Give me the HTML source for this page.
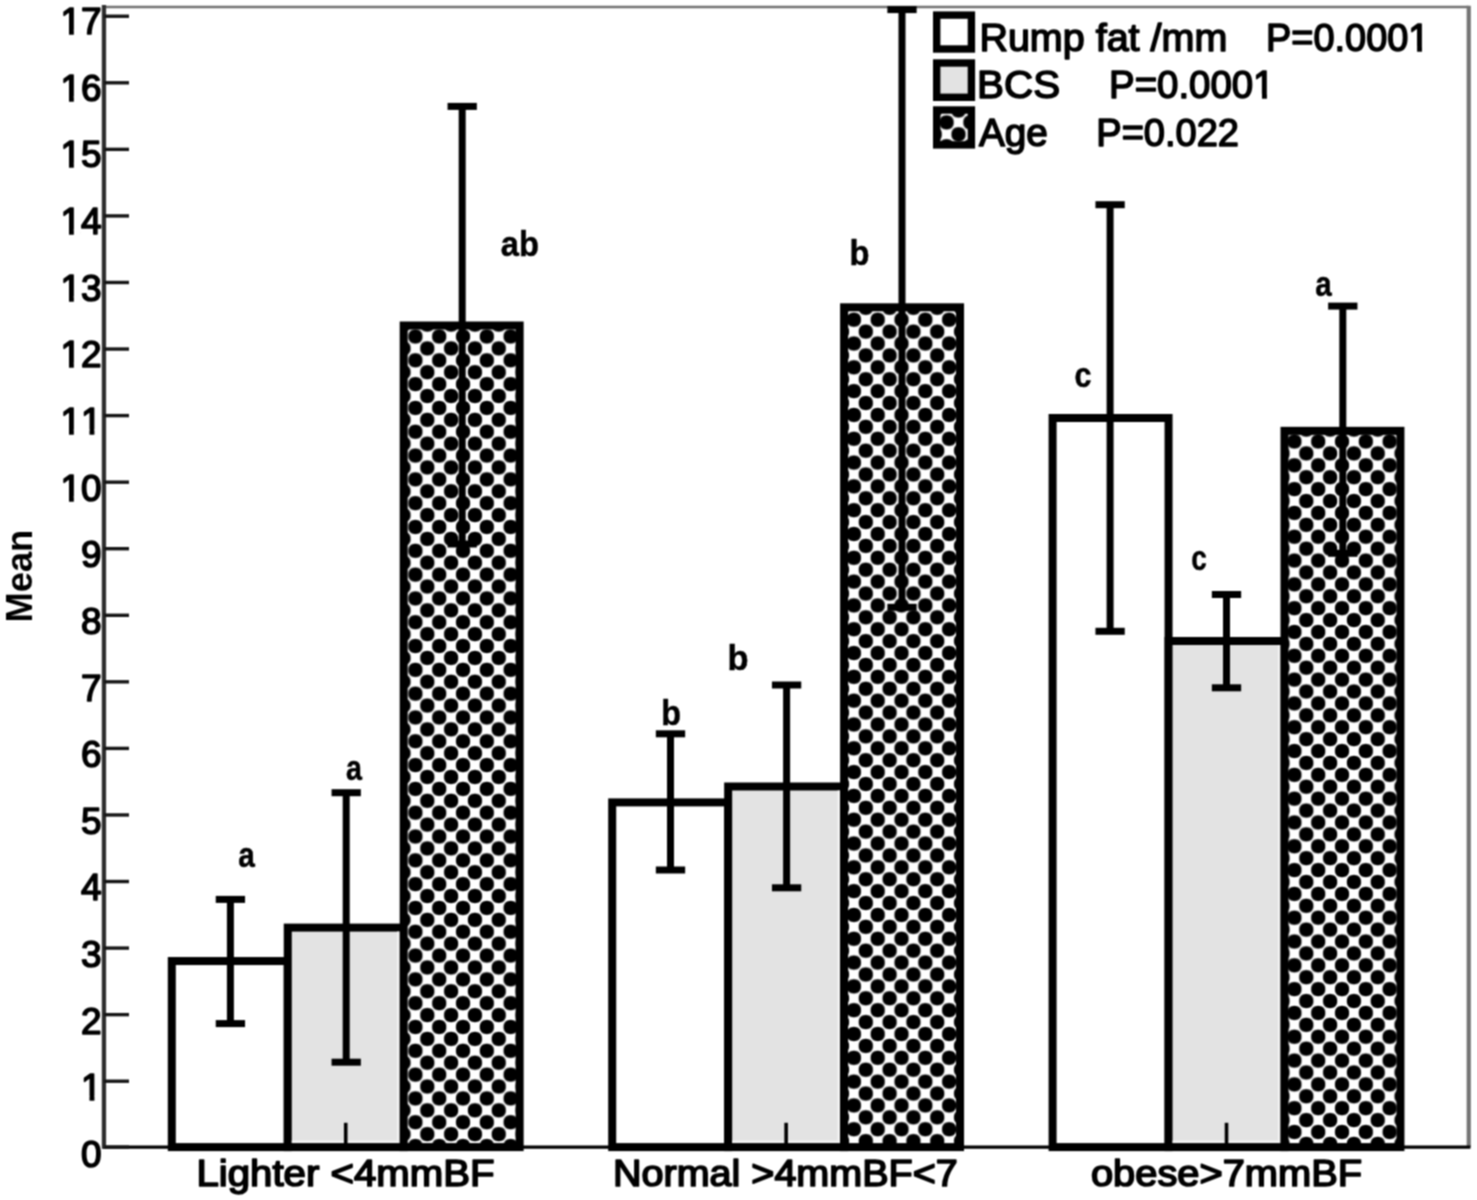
<!DOCTYPE html>
<html><head><meta charset="utf-8"><style>
html,body{margin:0;padding:0;background:#fff;}
body{width:1477px;height:1200px;overflow:hidden;}
svg{display:block;}
text{font-kerning:none;}
</style></head><body>
<svg width="1477" height="1200" viewBox="0 0 1477 1200">
<defs><filter id="soft" x="0" y="0" width="1477" height="1200" filterUnits="userSpaceOnUse" color-interpolation-filters="sRGB"><feConvolveMatrix order="3" kernelMatrix="1 2 1 2 4 2 1 2 1" divisor="16" edgeMode="duplicate"/></filter><pattern id="dots0" patternUnits="userSpaceOnUse" x="403.50" y="324.60" width="23.81" height="23.81"><rect width="23.81" height="23.81" fill="#fff"/><path d="M7.10,0.00 L7.02,1.41 L6.80,2.56 L6.42,3.57 L5.91,4.47 L5.25,5.25 L4.47,5.91 L3.57,6.42 L2.56,6.80 L1.41,7.02 L0.00,7.10 L-1.41,7.02 L-2.56,6.80 L-3.57,6.42 L-4.47,5.91 L-5.25,5.25 L-5.91,4.47 L-6.42,3.57 L-6.80,2.56 L-7.02,1.41 L-7.10,0.00 L-7.02,-1.41 L-6.80,-2.56 L-6.42,-3.57 L-5.91,-4.47 L-5.25,-5.25 L-4.47,-5.91 L-3.57,-6.42 L-2.56,-6.80 L-1.41,-7.02 L-0.00,-7.10 L1.41,-7.02 L2.56,-6.80 L3.57,-6.42 L4.47,-5.91 L5.25,-5.25 L5.91,-4.47 L6.42,-3.57 L6.80,-2.56 L7.02,-1.41Z"/><path d="M30.91,0.00 L30.83,1.41 L30.61,2.56 L30.23,3.57 L29.72,4.47 L29.06,5.25 L28.28,5.91 L27.38,6.42 L26.37,6.80 L25.22,7.02 L23.81,7.10 L22.40,7.02 L21.25,6.80 L20.24,6.42 L19.34,5.91 L18.56,5.25 L17.90,4.47 L17.39,3.57 L17.01,2.56 L16.79,1.41 L16.71,0.00 L16.79,-1.41 L17.01,-2.56 L17.39,-3.57 L17.90,-4.47 L18.56,-5.25 L19.34,-5.91 L20.24,-6.42 L21.25,-6.80 L22.40,-7.02 L23.81,-7.10 L25.22,-7.02 L26.37,-6.80 L27.38,-6.42 L28.28,-5.91 L29.06,-5.25 L29.72,-4.47 L30.23,-3.57 L30.61,-2.56 L30.83,-1.41Z"/><path d="M7.10,23.81 L7.02,25.22 L6.80,26.37 L6.42,27.38 L5.91,28.28 L5.25,29.06 L4.47,29.72 L3.57,30.23 L2.56,30.61 L1.41,30.83 L0.00,30.91 L-1.41,30.83 L-2.56,30.61 L-3.57,30.23 L-4.47,29.72 L-5.25,29.06 L-5.91,28.28 L-6.42,27.38 L-6.80,26.37 L-7.02,25.22 L-7.10,23.81 L-7.02,22.40 L-6.80,21.25 L-6.42,20.24 L-5.91,19.34 L-5.25,18.56 L-4.47,17.90 L-3.57,17.39 L-2.56,17.01 L-1.41,16.79 L-0.00,16.71 L1.41,16.79 L2.56,17.01 L3.57,17.39 L4.47,17.90 L5.25,18.56 L5.91,19.34 L6.42,20.24 L6.80,21.25 L7.02,22.40Z"/><path d="M30.91,23.81 L30.83,25.22 L30.61,26.37 L30.23,27.38 L29.72,28.28 L29.06,29.06 L28.28,29.72 L27.38,30.23 L26.37,30.61 L25.22,30.83 L23.81,30.91 L22.40,30.83 L21.25,30.61 L20.24,30.23 L19.34,29.72 L18.56,29.06 L17.90,28.28 L17.39,27.38 L17.01,26.37 L16.79,25.22 L16.71,23.81 L16.79,22.40 L17.01,21.25 L17.39,20.24 L17.90,19.34 L18.56,18.56 L19.34,17.90 L20.24,17.39 L21.25,17.01 L22.40,16.79 L23.81,16.71 L25.22,16.79 L26.37,17.01 L27.38,17.39 L28.28,17.90 L29.06,18.56 L29.72,19.34 L30.23,20.24 L30.61,21.25 L30.83,22.40Z"/><path d="M19.00,11.90 L18.93,13.32 L18.70,14.46 L18.33,15.48 L17.81,16.38 L17.16,17.16 L16.38,17.81 L15.48,18.33 L14.46,18.70 L13.32,18.93 L11.91,19.00 L10.49,18.93 L9.35,18.70 L8.33,18.33 L7.43,17.81 L6.65,17.16 L6.00,16.38 L5.48,15.48 L5.11,14.46 L4.88,13.32 L4.80,11.91 L4.88,10.49 L5.11,9.35 L5.48,8.33 L6.00,7.43 L6.65,6.65 L7.43,6.00 L8.33,5.48 L9.35,5.11 L10.49,4.88 L11.90,4.80 L13.32,4.88 L14.46,5.11 L15.48,5.48 L16.38,6.00 L17.16,6.65 L17.81,7.43 L18.33,8.33 L18.70,9.35 L18.93,10.49Z"/></pattern><pattern id="dots1" patternUnits="userSpaceOnUse" x="842.00" y="307.80" width="23.81" height="23.81"><rect width="23.81" height="23.81" fill="#fff"/><path d="M7.10,0.00 L7.02,1.41 L6.80,2.56 L6.42,3.57 L5.91,4.47 L5.25,5.25 L4.47,5.91 L3.57,6.42 L2.56,6.80 L1.41,7.02 L0.00,7.10 L-1.41,7.02 L-2.56,6.80 L-3.57,6.42 L-4.47,5.91 L-5.25,5.25 L-5.91,4.47 L-6.42,3.57 L-6.80,2.56 L-7.02,1.41 L-7.10,0.00 L-7.02,-1.41 L-6.80,-2.56 L-6.42,-3.57 L-5.91,-4.47 L-5.25,-5.25 L-4.47,-5.91 L-3.57,-6.42 L-2.56,-6.80 L-1.41,-7.02 L-0.00,-7.10 L1.41,-7.02 L2.56,-6.80 L3.57,-6.42 L4.47,-5.91 L5.25,-5.25 L5.91,-4.47 L6.42,-3.57 L6.80,-2.56 L7.02,-1.41Z"/><path d="M30.91,0.00 L30.83,1.41 L30.61,2.56 L30.23,3.57 L29.72,4.47 L29.06,5.25 L28.28,5.91 L27.38,6.42 L26.37,6.80 L25.22,7.02 L23.81,7.10 L22.40,7.02 L21.25,6.80 L20.24,6.42 L19.34,5.91 L18.56,5.25 L17.90,4.47 L17.39,3.57 L17.01,2.56 L16.79,1.41 L16.71,0.00 L16.79,-1.41 L17.01,-2.56 L17.39,-3.57 L17.90,-4.47 L18.56,-5.25 L19.34,-5.91 L20.24,-6.42 L21.25,-6.80 L22.40,-7.02 L23.81,-7.10 L25.22,-7.02 L26.37,-6.80 L27.38,-6.42 L28.28,-5.91 L29.06,-5.25 L29.72,-4.47 L30.23,-3.57 L30.61,-2.56 L30.83,-1.41Z"/><path d="M7.10,23.81 L7.02,25.22 L6.80,26.37 L6.42,27.38 L5.91,28.28 L5.25,29.06 L4.47,29.72 L3.57,30.23 L2.56,30.61 L1.41,30.83 L0.00,30.91 L-1.41,30.83 L-2.56,30.61 L-3.57,30.23 L-4.47,29.72 L-5.25,29.06 L-5.91,28.28 L-6.42,27.38 L-6.80,26.37 L-7.02,25.22 L-7.10,23.81 L-7.02,22.40 L-6.80,21.25 L-6.42,20.24 L-5.91,19.34 L-5.25,18.56 L-4.47,17.90 L-3.57,17.39 L-2.56,17.01 L-1.41,16.79 L-0.00,16.71 L1.41,16.79 L2.56,17.01 L3.57,17.39 L4.47,17.90 L5.25,18.56 L5.91,19.34 L6.42,20.24 L6.80,21.25 L7.02,22.40Z"/><path d="M30.91,23.81 L30.83,25.22 L30.61,26.37 L30.23,27.38 L29.72,28.28 L29.06,29.06 L28.28,29.72 L27.38,30.23 L26.37,30.61 L25.22,30.83 L23.81,30.91 L22.40,30.83 L21.25,30.61 L20.24,30.23 L19.34,29.72 L18.56,29.06 L17.90,28.28 L17.39,27.38 L17.01,26.37 L16.79,25.22 L16.71,23.81 L16.79,22.40 L17.01,21.25 L17.39,20.24 L17.90,19.34 L18.56,18.56 L19.34,17.90 L20.24,17.39 L21.25,17.01 L22.40,16.79 L23.81,16.71 L25.22,16.79 L26.37,17.01 L27.38,17.39 L28.28,17.90 L29.06,18.56 L29.72,19.34 L30.23,20.24 L30.61,21.25 L30.83,22.40Z"/><path d="M19.00,11.90 L18.93,13.32 L18.70,14.46 L18.33,15.48 L17.81,16.38 L17.16,17.16 L16.38,17.81 L15.48,18.33 L14.46,18.70 L13.32,18.93 L11.91,19.00 L10.49,18.93 L9.35,18.70 L8.33,18.33 L7.43,17.81 L6.65,17.16 L6.00,16.38 L5.48,15.48 L5.11,14.46 L4.88,13.32 L4.80,11.91 L4.88,10.49 L5.11,9.35 L5.48,8.33 L6.00,7.43 L6.65,6.65 L7.43,6.00 L8.33,5.48 L9.35,5.11 L10.49,4.88 L11.90,4.80 L13.32,4.88 L14.46,5.11 L15.48,5.48 L16.38,6.00 L17.16,6.65 L17.81,7.43 L18.33,8.33 L18.70,9.35 L18.93,10.49Z"/></pattern><pattern id="dots2" patternUnits="userSpaceOnUse" x="1282.50" y="429.60" width="23.81" height="23.81"><rect width="23.81" height="23.81" fill="#fff"/><path d="M7.10,0.00 L7.02,1.41 L6.80,2.56 L6.42,3.57 L5.91,4.47 L5.25,5.25 L4.47,5.91 L3.57,6.42 L2.56,6.80 L1.41,7.02 L0.00,7.10 L-1.41,7.02 L-2.56,6.80 L-3.57,6.42 L-4.47,5.91 L-5.25,5.25 L-5.91,4.47 L-6.42,3.57 L-6.80,2.56 L-7.02,1.41 L-7.10,0.00 L-7.02,-1.41 L-6.80,-2.56 L-6.42,-3.57 L-5.91,-4.47 L-5.25,-5.25 L-4.47,-5.91 L-3.57,-6.42 L-2.56,-6.80 L-1.41,-7.02 L-0.00,-7.10 L1.41,-7.02 L2.56,-6.80 L3.57,-6.42 L4.47,-5.91 L5.25,-5.25 L5.91,-4.47 L6.42,-3.57 L6.80,-2.56 L7.02,-1.41Z"/><path d="M30.91,0.00 L30.83,1.41 L30.61,2.56 L30.23,3.57 L29.72,4.47 L29.06,5.25 L28.28,5.91 L27.38,6.42 L26.37,6.80 L25.22,7.02 L23.81,7.10 L22.40,7.02 L21.25,6.80 L20.24,6.42 L19.34,5.91 L18.56,5.25 L17.90,4.47 L17.39,3.57 L17.01,2.56 L16.79,1.41 L16.71,0.00 L16.79,-1.41 L17.01,-2.56 L17.39,-3.57 L17.90,-4.47 L18.56,-5.25 L19.34,-5.91 L20.24,-6.42 L21.25,-6.80 L22.40,-7.02 L23.81,-7.10 L25.22,-7.02 L26.37,-6.80 L27.38,-6.42 L28.28,-5.91 L29.06,-5.25 L29.72,-4.47 L30.23,-3.57 L30.61,-2.56 L30.83,-1.41Z"/><path d="M7.10,23.81 L7.02,25.22 L6.80,26.37 L6.42,27.38 L5.91,28.28 L5.25,29.06 L4.47,29.72 L3.57,30.23 L2.56,30.61 L1.41,30.83 L0.00,30.91 L-1.41,30.83 L-2.56,30.61 L-3.57,30.23 L-4.47,29.72 L-5.25,29.06 L-5.91,28.28 L-6.42,27.38 L-6.80,26.37 L-7.02,25.22 L-7.10,23.81 L-7.02,22.40 L-6.80,21.25 L-6.42,20.24 L-5.91,19.34 L-5.25,18.56 L-4.47,17.90 L-3.57,17.39 L-2.56,17.01 L-1.41,16.79 L-0.00,16.71 L1.41,16.79 L2.56,17.01 L3.57,17.39 L4.47,17.90 L5.25,18.56 L5.91,19.34 L6.42,20.24 L6.80,21.25 L7.02,22.40Z"/><path d="M30.91,23.81 L30.83,25.22 L30.61,26.37 L30.23,27.38 L29.72,28.28 L29.06,29.06 L28.28,29.72 L27.38,30.23 L26.37,30.61 L25.22,30.83 L23.81,30.91 L22.40,30.83 L21.25,30.61 L20.24,30.23 L19.34,29.72 L18.56,29.06 L17.90,28.28 L17.39,27.38 L17.01,26.37 L16.79,25.22 L16.71,23.81 L16.79,22.40 L17.01,21.25 L17.39,20.24 L17.90,19.34 L18.56,18.56 L19.34,17.90 L20.24,17.39 L21.25,17.01 L22.40,16.79 L23.81,16.71 L25.22,16.79 L26.37,17.01 L27.38,17.39 L28.28,17.90 L29.06,18.56 L29.72,19.34 L30.23,20.24 L30.61,21.25 L30.83,22.40Z"/><path d="M19.00,11.90 L18.93,13.32 L18.70,14.46 L18.33,15.48 L17.81,16.38 L17.16,17.16 L16.38,17.81 L15.48,18.33 L14.46,18.70 L13.32,18.93 L11.91,19.00 L10.49,18.93 L9.35,18.70 L8.33,18.33 L7.43,17.81 L6.65,17.16 L6.00,16.38 L5.48,15.48 L5.11,14.46 L4.88,13.32 L4.80,11.91 L4.88,10.49 L5.11,9.35 L5.48,8.33 L6.00,7.43 L6.65,6.65 L7.43,6.00 L8.33,5.48 L9.35,5.11 L10.49,4.88 L11.90,4.80 L13.32,4.88 L14.46,5.11 L15.48,5.48 L16.38,6.00 L17.16,6.65 L17.81,7.43 L18.33,8.33 L18.70,9.35 L18.93,10.49Z"/></pattern><pattern id="legdots" patternUnits="userSpaceOnUse" x="946.60" y="122.40" width="23.81" height="23.81"><rect width="23.81" height="23.81" fill="#fff"/><path d="M7.10,0.00 L7.02,1.41 L6.80,2.56 L6.42,3.57 L5.91,4.47 L5.25,5.25 L4.47,5.91 L3.57,6.42 L2.56,6.80 L1.41,7.02 L0.00,7.10 L-1.41,7.02 L-2.56,6.80 L-3.57,6.42 L-4.47,5.91 L-5.25,5.25 L-5.91,4.47 L-6.42,3.57 L-6.80,2.56 L-7.02,1.41 L-7.10,0.00 L-7.02,-1.41 L-6.80,-2.56 L-6.42,-3.57 L-5.91,-4.47 L-5.25,-5.25 L-4.47,-5.91 L-3.57,-6.42 L-2.56,-6.80 L-1.41,-7.02 L-0.00,-7.10 L1.41,-7.02 L2.56,-6.80 L3.57,-6.42 L4.47,-5.91 L5.25,-5.25 L5.91,-4.47 L6.42,-3.57 L6.80,-2.56 L7.02,-1.41Z"/><path d="M30.91,0.00 L30.83,1.41 L30.61,2.56 L30.23,3.57 L29.72,4.47 L29.06,5.25 L28.28,5.91 L27.38,6.42 L26.37,6.80 L25.22,7.02 L23.81,7.10 L22.40,7.02 L21.25,6.80 L20.24,6.42 L19.34,5.91 L18.56,5.25 L17.90,4.47 L17.39,3.57 L17.01,2.56 L16.79,1.41 L16.71,0.00 L16.79,-1.41 L17.01,-2.56 L17.39,-3.57 L17.90,-4.47 L18.56,-5.25 L19.34,-5.91 L20.24,-6.42 L21.25,-6.80 L22.40,-7.02 L23.81,-7.10 L25.22,-7.02 L26.37,-6.80 L27.38,-6.42 L28.28,-5.91 L29.06,-5.25 L29.72,-4.47 L30.23,-3.57 L30.61,-2.56 L30.83,-1.41Z"/><path d="M7.10,23.81 L7.02,25.22 L6.80,26.37 L6.42,27.38 L5.91,28.28 L5.25,29.06 L4.47,29.72 L3.57,30.23 L2.56,30.61 L1.41,30.83 L0.00,30.91 L-1.41,30.83 L-2.56,30.61 L-3.57,30.23 L-4.47,29.72 L-5.25,29.06 L-5.91,28.28 L-6.42,27.38 L-6.80,26.37 L-7.02,25.22 L-7.10,23.81 L-7.02,22.40 L-6.80,21.25 L-6.42,20.24 L-5.91,19.34 L-5.25,18.56 L-4.47,17.90 L-3.57,17.39 L-2.56,17.01 L-1.41,16.79 L-0.00,16.71 L1.41,16.79 L2.56,17.01 L3.57,17.39 L4.47,17.90 L5.25,18.56 L5.91,19.34 L6.42,20.24 L6.80,21.25 L7.02,22.40Z"/><path d="M30.91,23.81 L30.83,25.22 L30.61,26.37 L30.23,27.38 L29.72,28.28 L29.06,29.06 L28.28,29.72 L27.38,30.23 L26.37,30.61 L25.22,30.83 L23.81,30.91 L22.40,30.83 L21.25,30.61 L20.24,30.23 L19.34,29.72 L18.56,29.06 L17.90,28.28 L17.39,27.38 L17.01,26.37 L16.79,25.22 L16.71,23.81 L16.79,22.40 L17.01,21.25 L17.39,20.24 L17.90,19.34 L18.56,18.56 L19.34,17.90 L20.24,17.39 L21.25,17.01 L22.40,16.79 L23.81,16.71 L25.22,16.79 L26.37,17.01 L27.38,17.39 L28.28,17.90 L29.06,18.56 L29.72,19.34 L30.23,20.24 L30.61,21.25 L30.83,22.40Z"/><path d="M19.00,11.90 L18.93,13.32 L18.70,14.46 L18.33,15.48 L17.81,16.38 L17.16,17.16 L16.38,17.81 L15.48,18.33 L14.46,18.70 L13.32,18.93 L11.91,19.00 L10.49,18.93 L9.35,18.70 L8.33,18.33 L7.43,17.81 L6.65,17.16 L6.00,16.38 L5.48,15.48 L5.11,14.46 L4.88,13.32 L4.80,11.91 L4.88,10.49 L5.11,9.35 L5.48,8.33 L6.00,7.43 L6.65,6.65 L7.43,6.00 L8.33,5.48 L9.35,5.11 L10.49,4.88 L11.90,4.80 L13.32,4.88 L14.46,5.11 L15.48,5.48 L16.38,6.00 L17.16,6.65 L17.81,7.43 L18.33,8.33 L18.70,9.35 L18.93,10.49Z"/></pattern><clipPath id="plotclip" clipPathUnits="userSpaceOnUse"><rect x="100" y="6.1" width="1375" height="1190"/></clipPath><clipPath id="clip_t1" clipPathUnits="userSpaceOnUse"><rect x="-2000" y="-2000" width="5000" height="1995.54"/><rect x="-12.02" y="-5.46" width="4.77" height="12.46"/></clipPath><clipPath id="clip_t10" clipPathUnits="userSpaceOnUse"><rect x="-2000" y="-2000" width="5000" height="1995.54"/><rect x="-32.59" y="-5.46" width="4.77" height="12.46"/><rect x="-21.09" y="-5.46" width="21.59" height="24.46"/></clipPath><clipPath id="clip_t11" clipPathUnits="userSpaceOnUse"><rect x="-2000" y="-2000" width="5000" height="1995.54"/><rect x="-32.60" y="-5.46" width="4.77" height="12.46"/><rect x="-12.04" y="-5.46" width="4.77" height="12.46"/></clipPath><clipPath id="clip_t12" clipPathUnits="userSpaceOnUse"><rect x="-2000" y="-2000" width="5000" height="1995.54"/><rect x="-32.59" y="-5.46" width="4.77" height="12.46"/><rect x="-21.09" y="-5.46" width="21.59" height="24.46"/></clipPath><clipPath id="clip_t13" clipPathUnits="userSpaceOnUse"><rect x="-2000" y="-2000" width="5000" height="1995.54"/><rect x="-32.59" y="-5.46" width="4.77" height="12.46"/><rect x="-21.09" y="-5.46" width="21.59" height="24.46"/></clipPath><clipPath id="clip_t14" clipPathUnits="userSpaceOnUse"><rect x="-2000" y="-2000" width="5000" height="1995.54"/><rect x="-32.59" y="-5.46" width="4.77" height="12.46"/><rect x="-21.09" y="-5.46" width="21.59" height="24.46"/></clipPath><clipPath id="clip_t15" clipPathUnits="userSpaceOnUse"><rect x="-2000" y="-2000" width="5000" height="1995.54"/><rect x="-32.59" y="-5.46" width="4.77" height="12.46"/><rect x="-21.09" y="-5.46" width="21.59" height="24.46"/></clipPath><clipPath id="clip_t16" clipPathUnits="userSpaceOnUse"><rect x="-2000" y="-2000" width="5000" height="1995.54"/><rect x="-32.59" y="-5.46" width="4.77" height="12.46"/><rect x="-21.09" y="-5.46" width="21.59" height="24.46"/></clipPath><clipPath id="clip_t17" clipPathUnits="userSpaceOnUse"><rect x="-2000" y="-2000" width="5000" height="1995.54"/><rect x="-32.59" y="-5.46" width="4.77" height="12.46"/><rect x="-21.09" y="-5.46" width="21.59" height="24.46"/></clipPath><clipPath id="clip_leg1" clipPathUnits="userSpaceOnUse"><rect x="-2000" y="-2000" width="5000" height="2046.25"/><rect x="1265.58" y="45.25" width="26.29" height="24.65"/><rect x="1290.86" y="45.25" width="23.14" height="24.65"/><rect x="1312.99" y="45.25" width="22.10" height="24.65"/><rect x="1334.07" y="45.25" width="11.54" height="24.65"/><rect x="1344.59" y="45.25" width="22.10" height="24.65"/><rect x="1365.67" y="45.25" width="22.10" height="24.65"/><rect x="1386.75" y="45.25" width="22.10" height="24.65"/><rect x="1417.12" y="45.25" width="4.85" height="12.65"/></clipPath><clipPath id="clip_leg3" clipPathUnits="userSpaceOnUse"><rect x="-2000" y="-2000" width="5000" height="2093.75"/><rect x="1108.56" y="92.75" width="26.61" height="24.65"/><rect x="1134.15" y="92.75" width="23.42" height="24.65"/><rect x="1156.56" y="92.75" width="22.36" height="24.65"/><rect x="1177.90" y="92.75" width="11.67" height="24.65"/><rect x="1188.56" y="92.75" width="22.36" height="24.65"/><rect x="1209.90" y="92.75" width="22.36" height="24.65"/><rect x="1231.24" y="92.75" width="22.36" height="24.65"/><rect x="1261.99" y="92.75" width="4.89" height="12.65"/></clipPath></defs>
<g filter="url(#soft)">
<rect width="1477" height="1200" fill="#fff"/>
<rect x="171.80" y="961.05" width="115.95" height="186.05" fill="#ffffff" stroke="#000" stroke-width="8"/>
<rect x="287.75" y="927.60" width="115.95" height="219.50" fill="#e3e3e3" stroke="#000" stroke-width="8"/>
<path d="M398.40,931.60 V1141.80 H291.75" fill="none" stroke="#f3f3f3" stroke-width="2.6"/>
<rect x="403.70" y="325.50" width="115.95" height="821.60" fill="url(#dots0)" stroke="#000" stroke-width="8"/>
<rect x="612.20" y="802.40" width="115.95" height="344.70" fill="#ffffff" stroke="#000" stroke-width="8"/>
<rect x="728.15" y="786.50" width="115.95" height="360.60" fill="#e3e3e3" stroke="#000" stroke-width="8"/>
<path d="M838.80,790.50 V1141.80 H732.15" fill="none" stroke="#f3f3f3" stroke-width="2.6"/>
<rect x="844.10" y="307.30" width="115.95" height="839.80" fill="url(#dots1)" stroke="#000" stroke-width="8"/>
<rect x="1052.60" y="418.00" width="115.95" height="729.10" fill="#ffffff" stroke="#000" stroke-width="8"/>
<rect x="1168.55" y="641.00" width="115.95" height="506.10" fill="#e3e3e3" stroke="#000" stroke-width="8"/>
<path d="M1279.20,645.00 V1141.80 H1172.55" fill="none" stroke="#f3f3f3" stroke-width="2.6"/>
<rect x="1284.50" y="430.85" width="115.95" height="716.25" fill="url(#dots2)" stroke="#000" stroke-width="8"/>
<line x1="104.2" y1="7.0" x2="1468.5" y2="7.0" stroke="#707070" stroke-width="2.4"/>
<line x1="1468.75" y1="5.8" x2="1468.75" y2="1147.1" stroke="#747474" stroke-width="4.2"/>
<line x1="102" y1="1147.1" x2="1470.5" y2="1147.1" stroke="#000" stroke-width="3.2"/>
<line x1="103.95" y1="5" x2="103.95" y2="1148.1" stroke="#2e2e2e" stroke-width="4.3"/>
<line x1="104" y1="1147.10" x2="129" y2="1147.10" stroke="#151515" stroke-width="3.4"/>
<line x1="104" y1="1081.20" x2="129" y2="1081.20" stroke="#151515" stroke-width="3.4"/>
<line x1="104" y1="1014.64" x2="129" y2="1014.64" stroke="#151515" stroke-width="3.4"/>
<line x1="104" y1="948.08" x2="129" y2="948.08" stroke="#151515" stroke-width="3.4"/>
<line x1="104" y1="881.52" x2="129" y2="881.52" stroke="#151515" stroke-width="3.4"/>
<line x1="104" y1="814.96" x2="129" y2="814.96" stroke="#151515" stroke-width="3.4"/>
<line x1="104" y1="748.40" x2="129" y2="748.40" stroke="#151515" stroke-width="3.4"/>
<line x1="104" y1="681.84" x2="129" y2="681.84" stroke="#151515" stroke-width="3.4"/>
<line x1="104" y1="615.28" x2="129" y2="615.28" stroke="#151515" stroke-width="3.4"/>
<line x1="104" y1="548.72" x2="129" y2="548.72" stroke="#151515" stroke-width="3.4"/>
<line x1="104" y1="482.16" x2="129" y2="482.16" stroke="#151515" stroke-width="3.4"/>
<line x1="104" y1="415.60" x2="129" y2="415.60" stroke="#151515" stroke-width="3.4"/>
<line x1="104" y1="349.04" x2="129" y2="349.04" stroke="#151515" stroke-width="3.4"/>
<line x1="104" y1="282.48" x2="129" y2="282.48" stroke="#151515" stroke-width="3.4"/>
<line x1="104" y1="215.92" x2="129" y2="215.92" stroke="#151515" stroke-width="3.4"/>
<line x1="104" y1="149.36" x2="129" y2="149.36" stroke="#151515" stroke-width="3.4"/>
<line x1="104" y1="82.80" x2="129" y2="82.80" stroke="#151515" stroke-width="3.4"/>
<line x1="104" y1="16.24" x2="129" y2="16.24" stroke="#151515" stroke-width="3.4"/>
<line x1="345.73" y1="1122.8" x2="345.73" y2="1147.1" stroke="#000" stroke-width="3.6"/>
<line x1="786.12" y1="1122.8" x2="786.12" y2="1147.1" stroke="#000" stroke-width="3.6"/>
<line x1="1226.52" y1="1122.8" x2="1226.52" y2="1147.1" stroke="#000" stroke-width="3.6"/>
<g clip-path="url(#plotclip)">
<line x1="230.40" y1="899.40" x2="230.40" y2="1023.60" stroke="#000" stroke-width="7.0"/>
<line x1="215.75" y1="899.40" x2="245.05" y2="899.40" stroke="#000" stroke-width="7.0"/>
<line x1="215.75" y1="1023.60" x2="245.05" y2="1023.60" stroke="#000" stroke-width="7.0"/>
<line x1="346.20" y1="792.70" x2="346.20" y2="1062.20" stroke="#000" stroke-width="7.0"/>
<line x1="331.55" y1="792.70" x2="360.85" y2="792.70" stroke="#000" stroke-width="7.0"/>
<line x1="331.55" y1="1062.20" x2="360.85" y2="1062.20" stroke="#000" stroke-width="7.0"/>
<line x1="462.20" y1="106.40" x2="462.20" y2="544.00" stroke="#000" stroke-width="7.0"/>
<line x1="447.55" y1="106.40" x2="476.85" y2="106.40" stroke="#000" stroke-width="7.0"/>
<line x1="447.55" y1="544.00" x2="476.85" y2="544.00" stroke="#000" stroke-width="7.0"/>
<line x1="670.50" y1="733.80" x2="670.50" y2="870.00" stroke="#000" stroke-width="7.0"/>
<line x1="655.85" y1="733.80" x2="685.15" y2="733.80" stroke="#000" stroke-width="7.0"/>
<line x1="655.85" y1="870.00" x2="685.15" y2="870.00" stroke="#000" stroke-width="7.0"/>
<line x1="786.60" y1="685.00" x2="786.60" y2="887.80" stroke="#000" stroke-width="7.0"/>
<line x1="771.95" y1="685.00" x2="801.25" y2="685.00" stroke="#000" stroke-width="7.0"/>
<line x1="771.95" y1="887.80" x2="801.25" y2="887.80" stroke="#000" stroke-width="7.0"/>
<line x1="902.00" y1="9.60" x2="902.00" y2="607.30" stroke="#000" stroke-width="7.0"/>
<line x1="887.35" y1="9.60" x2="916.65" y2="9.60" stroke="#000" stroke-width="7.0"/>
<line x1="887.35" y1="607.30" x2="916.65" y2="607.30" stroke="#000" stroke-width="7.0"/>
<line x1="1110.10" y1="204.70" x2="1110.10" y2="631.30" stroke="#000" stroke-width="7.0"/>
<line x1="1095.45" y1="204.70" x2="1124.75" y2="204.70" stroke="#000" stroke-width="7.0"/>
<line x1="1095.45" y1="631.30" x2="1124.75" y2="631.30" stroke="#000" stroke-width="7.0"/>
<line x1="1226.50" y1="594.50" x2="1226.50" y2="687.80" stroke="#000" stroke-width="7.0"/>
<line x1="1211.85" y1="594.50" x2="1241.15" y2="594.50" stroke="#000" stroke-width="7.0"/>
<line x1="1211.85" y1="687.80" x2="1241.15" y2="687.80" stroke="#000" stroke-width="7.0"/>
<line x1="1342.80" y1="306.10" x2="1342.80" y2="553.30" stroke="#000" stroke-width="7.0"/>
<line x1="1328.15" y1="306.10" x2="1357.45" y2="306.10" stroke="#000" stroke-width="7.0"/>
<line x1="1328.15" y1="553.30" x2="1357.45" y2="553.30" stroke="#000" stroke-width="7.0"/>
</g>
<rect x="936.70" y="15.10" width="34.70" height="33.90" fill="#fff" stroke="#000" stroke-width="7.4"/>
<rect x="936.70" y="63.00" width="34.70" height="34.30" fill="#e3e3e3" stroke="#000" stroke-width="7.4"/>
<rect x="936.70" y="110.00" width="34.70" height="34.90" fill="url(#legdots)" stroke="#000" stroke-width="7.4"/>
<text transform="translate(32.2,576.1) rotate(-90)" text-anchor="middle" font-family="Liberation Sans, sans-serif" font-weight="bold" font-size="36.3">Mean</text>
<text id="t0" font-family="Liberation Sans, sans-serif" font-size="37" stroke="#000" stroke-width="1.6" stroke-linejoin="round" fill="#000" text-anchor="end" transform="translate(101.6,1167.00) scale(1.0000,1)" x="0" y="0">0</text>
<text id="t1" font-family="Liberation Sans, sans-serif" font-size="37" stroke="#000" stroke-width="1.6" stroke-linejoin="round" fill="#000" clip-path="url(#clip_t1)" text-anchor="end" transform="translate(101.6,1100.36) scale(1.0000,1)" x="0" y="0">1</text>
<text id="t2" font-family="Liberation Sans, sans-serif" font-size="37" stroke="#000" stroke-width="1.6" stroke-linejoin="round" fill="#000" text-anchor="end" transform="translate(101.6,1033.72) scale(1.0000,1)" x="0" y="0">2</text>
<text id="t3" font-family="Liberation Sans, sans-serif" font-size="37" stroke="#000" stroke-width="1.6" stroke-linejoin="round" fill="#000" text-anchor="end" transform="translate(101.6,967.08) scale(1.0000,1)" x="0" y="0">3</text>
<text id="t4" font-family="Liberation Sans, sans-serif" font-size="37" stroke="#000" stroke-width="1.6" stroke-linejoin="round" fill="#000" text-anchor="end" transform="translate(101.6,900.44) scale(1.0000,1)" x="0" y="0">4</text>
<text id="t5" font-family="Liberation Sans, sans-serif" font-size="37" stroke="#000" stroke-width="1.6" stroke-linejoin="round" fill="#000" text-anchor="end" transform="translate(101.6,833.80) scale(1.0000,1)" x="0" y="0">5</text>
<text id="t6" font-family="Liberation Sans, sans-serif" font-size="37" stroke="#000" stroke-width="1.6" stroke-linejoin="round" fill="#000" text-anchor="end" transform="translate(101.6,767.16) scale(1.0000,1)" x="0" y="0">6</text>
<text id="t7" font-family="Liberation Sans, sans-serif" font-size="37" stroke="#000" stroke-width="1.6" stroke-linejoin="round" fill="#000" text-anchor="end" transform="translate(101.6,700.52) scale(1.0000,1)" x="0" y="0">7</text>
<text id="t8" font-family="Liberation Sans, sans-serif" font-size="37" stroke="#000" stroke-width="1.6" stroke-linejoin="round" fill="#000" text-anchor="end" transform="translate(101.6,633.88) scale(1.0000,1)" x="0" y="0">8</text>
<text id="t9" font-family="Liberation Sans, sans-serif" font-size="37" stroke="#000" stroke-width="1.6" stroke-linejoin="round" fill="#000" text-anchor="end" transform="translate(101.6,567.24) scale(1.0000,1)" x="0" y="0">9</text>
<text id="t10" font-family="Liberation Sans, sans-serif" font-size="37" stroke="#000" stroke-width="1.6" stroke-linejoin="round" fill="#000" clip-path="url(#clip_t10)" text-anchor="end" transform="translate(101.6,500.60) scale(1.0000,1)" x="0" y="0">10</text>
<text id="t11" font-family="Liberation Sans, sans-serif" font-size="37" stroke="#000" stroke-width="1.6" stroke-linejoin="round" fill="#000" clip-path="url(#clip_t11)" text-anchor="end" transform="translate(101.6,433.96) scale(1.0000,1)" x="0" y="0">11</text>
<text id="t12" font-family="Liberation Sans, sans-serif" font-size="37" stroke="#000" stroke-width="1.6" stroke-linejoin="round" fill="#000" clip-path="url(#clip_t12)" text-anchor="end" transform="translate(101.6,367.32) scale(1.0000,1)" x="0" y="0">12</text>
<text id="t13" font-family="Liberation Sans, sans-serif" font-size="37" stroke="#000" stroke-width="1.6" stroke-linejoin="round" fill="#000" clip-path="url(#clip_t13)" text-anchor="end" transform="translate(101.6,300.68) scale(1.0000,1)" x="0" y="0">13</text>
<text id="t14" font-family="Liberation Sans, sans-serif" font-size="37" stroke="#000" stroke-width="1.6" stroke-linejoin="round" fill="#000" clip-path="url(#clip_t14)" text-anchor="end" transform="translate(101.6,234.04) scale(1.0000,1)" x="0" y="0">14</text>
<text id="t15" font-family="Liberation Sans, sans-serif" font-size="37" stroke="#000" stroke-width="1.6" stroke-linejoin="round" fill="#000" clip-path="url(#clip_t15)" text-anchor="end" transform="translate(101.6,167.40) scale(1.0000,1)" x="0" y="0">15</text>
<text id="t16" font-family="Liberation Sans, sans-serif" font-size="37" stroke="#000" stroke-width="1.6" stroke-linejoin="round" fill="#000" clip-path="url(#clip_t16)" text-anchor="end" transform="translate(101.6,100.76) scale(1.0000,1)" x="0" y="0">16</text>
<text id="t17" font-family="Liberation Sans, sans-serif" font-size="37" stroke="#000" stroke-width="1.6" stroke-linejoin="round" fill="#000" clip-path="url(#clip_t17)" text-anchor="end" transform="translate(101.6,34.12) scale(1.0000,1)" x="0" y="0">17</text>
<text id="cat0" font-family="Liberation Sans, sans-serif" font-size="37.5" stroke="#000" stroke-width="1.7" stroke-linejoin="round" fill="#000" x="196.43" y="1186.30" textLength="298.17" lengthAdjust="spacingAndGlyphs">Lighter &lt;4mmBF</text>
<text id="cat1" font-family="Liberation Sans, sans-serif" font-size="37.5" stroke="#000" stroke-width="1.7" stroke-linejoin="round" fill="#000" x="613.06" y="1186.30" textLength="344.66" lengthAdjust="spacingAndGlyphs">Normal &gt;4mmBF&lt;7</text>
<text id="cat2" font-family="Liberation Sans, sans-serif" font-size="37.5" stroke="#000" stroke-width="1.7" stroke-linejoin="round" fill="#000" x="1090.97" y="1186.30" textLength="271.12" lengthAdjust="spacingAndGlyphs">obese&gt;7mmBF</text>
<text id="leg0" font-family="Liberation Sans, sans-serif" font-size="39.5" stroke="#000" stroke-width="1.6" stroke-linejoin="round" fill="#000" x="979.40" y="50.70" textLength="247.92" lengthAdjust="spacingAndGlyphs">Rump fat /mm</text>
<text id="leg1" font-family="Liberation Sans, sans-serif" font-size="39.5" stroke="#000" stroke-width="1.6" stroke-linejoin="round" fill="#000" clip-path="url(#clip_leg1)" x="1266.08" y="50.90" textLength="163.35" lengthAdjust="spacingAndGlyphs">P=0.0001</text>
<text id="leg2" font-family="Liberation Sans, sans-serif" font-size="39.5" stroke="#000" stroke-width="1.6" stroke-linejoin="round" fill="#000" x="977.14" y="98.40" textLength="82.90" lengthAdjust="spacingAndGlyphs">BCS</text>
<text id="leg3" font-family="Liberation Sans, sans-serif" font-size="39.5" stroke="#000" stroke-width="1.6" stroke-linejoin="round" fill="#000" clip-path="url(#clip_leg3)" x="1109.06" y="98.40" textLength="165.38" lengthAdjust="spacingAndGlyphs">P=0.0001</text>
<text id="leg4" font-family="Liberation Sans, sans-serif" font-size="39.5" stroke="#000" stroke-width="1.6" stroke-linejoin="round" fill="#000" x="978.98" y="145.60" textLength="68.91" lengthAdjust="spacingAndGlyphs">Age</text>
<text id="leg5" font-family="Liberation Sans, sans-serif" font-size="39.5" stroke="#000" stroke-width="1.6" stroke-linejoin="round" fill="#000" x="1096.28" y="145.60" textLength="142.75" lengthAdjust="spacingAndGlyphs">P=0.022</text>
<text id="let0" font-family="Liberation Sans, sans-serif" font-size="35.5" font-weight="bold" stroke="#000" stroke-width="0.5" stroke-linejoin="round" fill="#000" x="238.16" y="867.40" textLength="16.58" lengthAdjust="spacingAndGlyphs">a</text>
<text id="let1" font-family="Liberation Sans, sans-serif" font-size="35.5" font-weight="bold" stroke="#000" stroke-width="0.5" stroke-linejoin="round" fill="#000" x="346.07" y="779.50" textLength="15.94" lengthAdjust="spacingAndGlyphs">a</text>
<text id="let2" font-family="Liberation Sans, sans-serif" font-size="35.5" font-weight="bold" stroke="#000" stroke-width="0.5" stroke-linejoin="round" fill="#000" x="500.87" y="255.50" textLength="38.12" lengthAdjust="spacingAndGlyphs">ab</text>
<text id="let3" font-family="Liberation Sans, sans-serif" font-size="35.5" font-weight="bold" stroke="#000" stroke-width="0.5" stroke-linejoin="round" fill="#000" x="661.33" y="724.50" textLength="19.74" lengthAdjust="spacingAndGlyphs">b</text>
<text id="let4" font-family="Liberation Sans, sans-serif" font-size="35.5" font-weight="bold" stroke="#000" stroke-width="0.5" stroke-linejoin="round" fill="#000" x="727.44" y="670.00" textLength="21.00" lengthAdjust="spacingAndGlyphs">b</text>
<text id="let5" font-family="Liberation Sans, sans-serif" font-size="35.5" font-weight="bold" stroke="#000" stroke-width="0.5" stroke-linejoin="round" fill="#000" x="849.48" y="265.20" textLength="19.96" lengthAdjust="spacingAndGlyphs">b</text>
<text id="let6" font-family="Liberation Sans, sans-serif" font-size="35.5" font-weight="bold" stroke="#000" stroke-width="0.5" stroke-linejoin="round" fill="#000" x="1074.39" y="386.70" textLength="16.91" lengthAdjust="spacingAndGlyphs">c</text>
<text id="let7" font-family="Liberation Sans, sans-serif" font-size="35.5" font-weight="bold" stroke="#000" stroke-width="0.5" stroke-linejoin="round" fill="#000" x="1191.30" y="569.90" textLength="15.55" lengthAdjust="spacingAndGlyphs">c</text>
<text id="let8" font-family="Liberation Sans, sans-serif" font-size="35.5" font-weight="bold" stroke="#000" stroke-width="0.5" stroke-linejoin="round" fill="#000" x="1315.17" y="296.00" textLength="16.48" lengthAdjust="spacingAndGlyphs">a</text>
</g>
</svg>
</body></html>
